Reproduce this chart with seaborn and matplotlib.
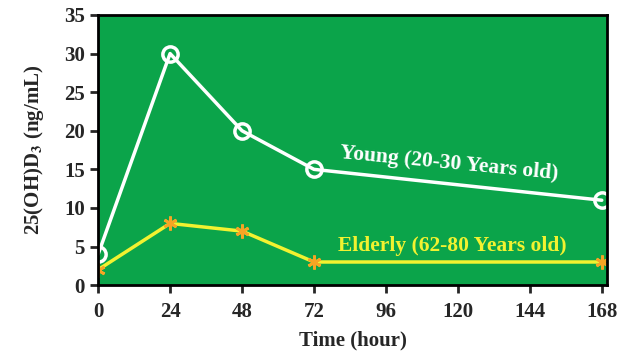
import matplotlib
matplotlib.use("Agg")
import matplotlib.pyplot as plt
import seaborn as sns
import pandas as pd

# data
hours = [0, 24, 48, 72, 168]
young = [4, 30, 20, 15, 11]
elderly = [2, 8, 7, 3, 3]
xticks = [0, 24, 48, 72, 96, 120, 144, 168]
yticks = [0, 5, 10, 15, 20, 25, 30, 35]

df = pd.DataFrame({"hour": hours, "young": young, "elderly": elderly})

sns.set_style("ticks")
plt.rcParams["font.family"] = ["Liberation Serif", "DejaVu Serif"]
plt.rcParams["font.weight"] = "bold"
plt.rcParams["mathtext.fontset"] = "stix"

fig = plt.figure(figsize=(6.25, 3.56), dpi=100)
ax = fig.add_axes([0.157, 0.199, 0.814, 0.759])
ax.set_facecolor("#0ba44a")

sns.lineplot(data=df, x="hour", y="young", ax=ax, color="white", lw=2.5,
             marker="o", markersize=11, markerfacecolor="none",
             markeredgecolor="white", markeredgewidth=2.5)
sns.lineplot(data=df, x="hour", y="elderly", ax=ax, color="#f2f230", lw=2.5,
             marker=(6, 2, 0), markersize=10, markeredgecolor="#f5a524",
             markeredgewidth=2)

ax.text(117, 15.8, "Young (20-30 Years old)", color="white", fontsize=15.5,
        fontweight="bold", ha="center", va="center", rotation=-5.5)
ax.text(118, 5.1, "Elderly (62-80 Years old)", color="#f2f230", fontsize=15.5,
        fontweight="bold", ha="center", va="center")

ax.set_xlim(0, 169.7)
ax.set_ylim(0, 35)
ax.set_xticks(xticks)
ax.set_yticks(yticks)
ax.tick_params(labelsize=15, width=2, length=6, direction="out")
ax.tick_params(axis="x", pad=6)
for lab in ax.get_xticklabels() + ax.get_yticklabels():
    lab.set_fontweight("bold")
for s in ax.spines.values():
    s.set_linewidth(2)
    s.set_color("black")

ax.set_xlabel("Time (hour)", fontsize=15, fontweight="bold", labelpad=6)
ax.set_ylabel(r"25(OH)D$_\mathbf{3}$ (ng/mL)", fontsize=15, fontweight="bold",
              labelpad=13)

fig.savefig("out.png", dpi=100)
